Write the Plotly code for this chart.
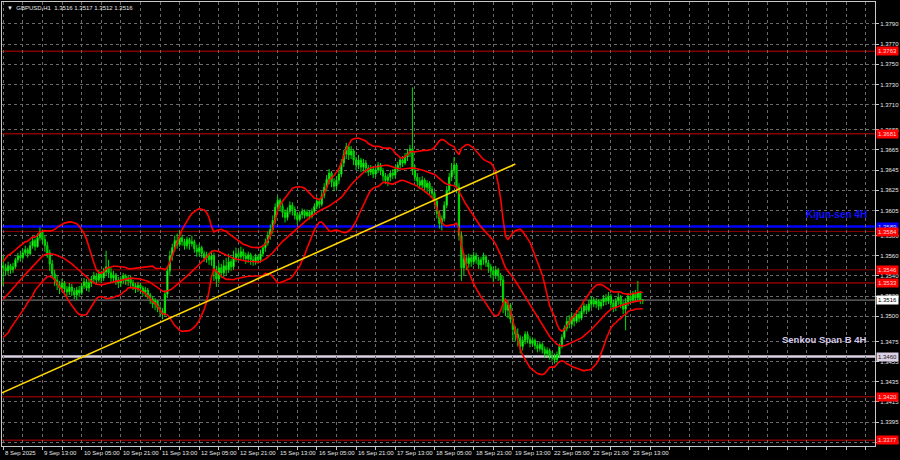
import plotly.graph_objects as go
import pandas as pd
import numpy as np

symbol_title = "GBPUSD,H1  1.3516 1.3517 1.3512 1.3516"

# closes of the bars just before the visible window (they only feed the Bollinger bands,
# estimated from where the bands start on the left edge)
prior_closes = [1.3492, 1.3495, 1.3490, 1.3497, 1.3500, 1.3498, 1.3505, 1.3510, 1.3507, 1.3512,
                1.3515, 1.3520, 1.3518, 1.3525, 1.3530, 1.3535, 1.3540, 1.3545, 1.3550]

closes = [
    1.3548, 1.3545, 1.3550, 1.3546, 1.3549, 1.3556, 1.3560, 1.3558, 1.3563, 1.3566,
    1.3562, 1.3570, 1.3575, 1.3569, 1.3578, 1.3584, 1.3576, 1.3570, 1.3563, 1.3552,
    1.3542, 1.3536, 1.3531, 1.3528, 1.3533, 1.3527, 1.3524, 1.3529, 1.3525, 1.3521,
    1.3526, 1.3523, 1.3530, 1.3534, 1.3528, 1.3533, 1.3537, 1.3540, 1.3536, 1.3542,
    1.3538, 1.3544, 1.3549, 1.3543, 1.3538, 1.3541, 1.3536, 1.3533, 1.3537, 1.3540,
    1.3535, 1.3538, 1.3533, 1.3530, 1.3527, 1.3531, 1.3528, 1.3524, 1.3526, 1.3521,
    1.3517, 1.3512, 1.3515, 1.3508, 1.3505, 1.3502, 1.3522, 1.3545, 1.3560, 1.3568,
    1.3575, 1.3571, 1.3578, 1.3574, 1.3570, 1.3576, 1.3572, 1.3574, 1.3567, 1.3564,
    1.3568, 1.3562, 1.3558, 1.3561, 1.3556, 1.3560, 1.3545, 1.3537, 1.3548, 1.3543,
    1.3550, 1.3546, 1.3554, 1.3549, 1.3558, 1.3562, 1.3559, 1.3564, 1.3560, 1.3557,
    1.3561, 1.3556, 1.3554, 1.3559, 1.3556, 1.3562, 1.3568, 1.3573, 1.3580, 1.3586,
    1.3595, 1.3608, 1.3615, 1.3609, 1.3603, 1.3598, 1.3604, 1.3610, 1.3606, 1.3600,
    1.3596, 1.3601, 1.3604, 1.3600, 1.3603, 1.3599, 1.3604, 1.3609, 1.3614, 1.3611,
    1.3620, 1.3628, 1.3636, 1.3642, 1.3633, 1.3629, 1.3635, 1.3641, 1.3652, 1.3661,
    1.3668, 1.3660, 1.3664, 1.3655, 1.3650, 1.3655, 1.3648, 1.3652, 1.3647, 1.3643,
    1.3646, 1.3641, 1.3645, 1.3650, 1.3644, 1.3639, 1.3635, 1.3638, 1.3642, 1.3640,
    1.3646, 1.3650, 1.3655, 1.3652, 1.3658, 1.3662, 1.3666, 1.3645, 1.3638, 1.3634,
    1.3630, 1.3635, 1.3628, 1.3632, 1.3626, 1.3622, 1.3614, 1.3602, 1.3592, 1.3597,
    1.3610, 1.3625, 1.3638, 1.3645, 1.3650, 1.3628, 1.3580, 1.3548, 1.3557, 1.3552,
    1.3558, 1.3554, 1.3560, 1.3556, 1.3551, 1.3556, 1.3559, 1.3553, 1.3549, 1.3545,
    1.3541, 1.3546, 1.3540, 1.3536, 1.3514, 1.3506, 1.3511, 1.3497, 1.3487, 1.3482,
    1.3478, 1.3470, 1.3476, 1.3482, 1.3477, 1.3473, 1.3476, 1.3471, 1.3468, 1.3472,
    1.3467, 1.3463, 1.3466, 1.3461, 1.3459, 1.3457, 1.3462, 1.3470, 1.3479, 1.3488,
    1.3495, 1.3492, 1.3500, 1.3495, 1.3502, 1.3498, 1.3505, 1.3510, 1.3506, 1.3512,
    1.3516, 1.3512, 1.3515, 1.3510, 1.3514, 1.3518, 1.3515, 1.3520, 1.3513, 1.3509,
    1.3515, 1.3519, 1.3512, 1.3507, 1.3514, 1.3520, 1.3516, 1.3522, 1.3518, 1.3523,
    1.3516, 1.3516,
]

highs = [
    1.3560, 1.3552, 1.3554, 1.3552, 1.3553, 1.3558, 1.3563, 1.3565, 1.3567, 1.3570,
    1.3568, 1.3574, 1.3579, 1.3577, 1.3582, 1.3588, 1.3586, 1.3580, 1.3574, 1.3566,
    1.3556, 1.3546, 1.3540, 1.3535, 1.3537, 1.3535, 1.3530, 1.3533, 1.3532, 1.3528,
    1.3529, 1.3530, 1.3533, 1.3538, 1.3537, 1.3536, 1.3540, 1.3544, 1.3543, 1.3546,
    1.3545, 1.3548, 1.3565, 1.3556, 1.3548, 1.3545, 1.3543, 1.3539, 1.3540, 1.3543,
    1.3542, 1.3541, 1.3540, 1.3536, 1.3533, 1.3534, 1.3533, 1.3530, 1.3529, 1.3528,
    1.3523, 1.3520, 1.3518, 1.3516, 1.3511, 1.3508, 1.3526, 1.3550, 1.3565, 1.3572,
    1.3580, 1.3582, 1.3585, 1.3581, 1.3577, 1.3579, 1.3578, 1.3580, 1.3576, 1.3571,
    1.3572, 1.3570, 1.3565, 1.3564, 1.3563, 1.3565, 1.3563, 1.3550, 1.3553, 1.3552,
    1.3556, 1.3558, 1.3562, 1.3557, 1.3565, 1.3568, 1.3566, 1.3569, 1.3567, 1.3563,
    1.3564, 1.3563, 1.3560, 1.3562, 1.3561, 1.3566, 1.3571, 1.3577, 1.3584, 1.3591,
    1.3600, 1.3612, 1.3619, 1.3617, 1.3612, 1.3606, 1.3608, 1.3614, 1.3613, 1.3609,
    1.3603, 1.3604, 1.3607, 1.3606, 1.3606, 1.3605, 1.3607, 1.3612, 1.3618, 1.3617,
    1.3624, 1.3632, 1.3640, 1.3646, 1.3644, 1.3637, 1.3639, 1.3645, 1.3656, 1.3665,
    1.3672, 1.3670, 1.3669, 1.3666, 1.3658, 1.3660, 1.3657, 1.3656, 1.3655, 1.3650,
    1.3650, 1.3649, 1.3648, 1.3653, 1.3652, 1.3647, 1.3642, 1.3641, 1.3645, 1.3646,
    1.3649, 1.3653, 1.3658, 1.3659, 1.3662, 1.3666, 1.3670, 1.3727, 1.3650, 1.3642,
    1.3638, 1.3639, 1.3637, 1.3635, 1.3634, 1.3629, 1.3624, 1.3616, 1.3605, 1.3600,
    1.3614, 1.3629, 1.3642, 1.3652, 1.3658, 1.3652, 1.3632, 1.3584, 1.3562, 1.3561,
    1.3562, 1.3561, 1.3564, 1.3563, 1.3559, 1.3559, 1.3563, 1.3561, 1.3556, 1.3552,
    1.3549, 1.3550, 1.3548, 1.3543, 1.3540, 1.3518, 1.3516, 1.3513, 1.3500, 1.3490,
    1.3488, 1.3481, 1.3480, 1.3485, 1.3485, 1.3480, 1.3479, 1.3478, 1.3474, 1.3475,
    1.3474, 1.3470, 1.3469, 1.3468, 1.3465, 1.3463, 1.3465, 1.3473, 1.3482, 1.3491,
    1.3499, 1.3501, 1.3504, 1.3503, 1.3506, 1.3505, 1.3509, 1.3513, 1.3512, 1.3516,
    1.3520, 1.3519, 1.3518, 1.3517, 1.3517, 1.3521, 1.3522, 1.3524, 1.3522, 1.3516,
    1.3518, 1.3523, 1.3521, 1.3515, 1.3518, 1.3523, 1.3524, 1.3525, 1.3526, 1.3535,
    1.3525, 1.3517,
]

lows = [
    1.3530, 1.3540, 1.3541, 1.3542, 1.3543, 1.3547, 1.3553, 1.3554, 1.3556, 1.3560,
    1.3558, 1.3560, 1.3567, 1.3565, 1.3568, 1.3575, 1.3572, 1.3564, 1.3558, 1.3545,
    1.3538, 1.3530, 1.3526, 1.3522, 1.3524, 1.3521, 1.3519, 1.3521, 1.3520, 1.3517,
    1.3516, 1.3519, 1.3521, 1.3527, 1.3525, 1.3524, 1.3529, 1.3533, 1.3531, 1.3534,
    1.3533, 1.3535, 1.3540, 1.3538, 1.3533, 1.3534, 1.3531, 1.3528, 1.3529, 1.3532,
    1.3531, 1.3530, 1.3529, 1.3526, 1.3523, 1.3524, 1.3522, 1.3520, 1.3519, 1.3517,
    1.3512, 1.3508, 1.3506, 1.3504, 1.3500, 1.3497, 1.3500, 1.3518, 1.3540, 1.3555,
    1.3564, 1.3567, 1.3569, 1.3570, 1.3566, 1.3567, 1.3566, 1.3569, 1.3563, 1.3559,
    1.3560, 1.3558, 1.3554, 1.3553, 1.3551, 1.3550, 1.3535, 1.3529, 1.3533, 1.3538,
    1.3539, 1.3541, 1.3543, 1.3545, 1.3546, 1.3554, 1.3555, 1.3556, 1.3556, 1.3552,
    1.3553, 1.3551, 1.3550, 1.3551, 1.3552, 1.3553, 1.3559, 1.3564, 1.3570, 1.3576,
    1.3582, 1.3592, 1.3603, 1.3604, 1.3598, 1.3593, 1.3595, 1.3601, 1.3600, 1.3596,
    1.3591, 1.3594, 1.3597, 1.3597, 1.3598, 1.3596, 1.3597, 1.3601, 1.3606, 1.3607,
    1.3609, 1.3617, 1.3624, 1.3631, 1.3628, 1.3624, 1.3626, 1.3631, 1.3638, 1.3648,
    1.3656, 1.3655, 1.3656, 1.3650, 1.3645, 1.3646, 1.3643, 1.3644, 1.3642, 1.3639,
    1.3640, 1.3637, 1.3638, 1.3642, 1.3640, 1.3634, 1.3631, 1.3629, 1.3634, 1.3636,
    1.3637, 1.3643, 1.3647, 1.3648, 1.3650, 1.3654, 1.3658, 1.3640, 1.3634, 1.3629,
    1.3626, 1.3627, 1.3624, 1.3623, 1.3621, 1.3618, 1.3610, 1.3597, 1.3587, 1.3585,
    1.3594, 1.3607, 1.3622, 1.3634, 1.3640, 1.3622, 1.3575, 1.3535, 1.3540, 1.3546,
    1.3548, 1.3549, 1.3551, 1.3552, 1.3547, 1.3546, 1.3551, 1.3549, 1.3543, 1.3538,
    1.3534, 1.3537, 1.3535, 1.3530, 1.3503, 1.3500, 1.3498, 1.3493, 1.3476, 1.3475,
    1.3470, 1.3463, 1.3466, 1.3472, 1.3473, 1.3469, 1.3470, 1.3467, 1.3464, 1.3465,
    1.3463, 1.3459, 1.3460, 1.3457, 1.3455, 1.3453, 1.3454, 1.3459, 1.3468, 1.3477,
    1.3485, 1.3488, 1.3489, 1.3490, 1.3493, 1.3494, 1.3496, 1.3502, 1.3502, 1.3504,
    1.3508, 1.3509, 1.3508, 1.3506, 1.3507, 1.3510, 1.3511, 1.3512, 1.3508, 1.3504,
    1.3505, 1.3511, 1.3508, 1.3502, 1.3486, 1.3510, 1.3512, 1.3513, 1.3514, 1.3515,
    1.3512, 1.3512,
]

# time axis labels
time_label_times = ["2025-09-08 21:00", "2025-09-09 13:00", "2025-09-10 05:00", "2025-09-10 21:00",
                    "2025-09-11 13:00", "2025-09-12 05:00", "2025-09-12 21:00", "2025-09-15 13:00",
                    "2025-09-16 05:00", "2025-09-16 21:00", "2025-09-17 13:00", "2025-09-18 05:00",
                    "2025-09-18 21:00", "2025-09-19 13:00", "2025-09-22 05:00", "2025-09-22 21:00",
                    "2025-09-23 13:00"]
time_label_text = ["8 Sep 2025", "9 Sep 13:00", "10 Sep 05:00", "10 Sep 21:00", "11 Sep 13:00",
                   "12 Sep 05:00", "12 Sep 21:00", "15 Sep 13:00", "16 Sep 05:00", "16 Sep 21:00",
                   "17 Sep 13:00", "18 Sep 05:00", "18 Sep 21:00", "19 Sep 13:00", "22 Sep 05:00",
                   "22 Sep 21:00", "23 Sep 13:00"]

price_ticks = [1.3790, 1.3770, 1.3750, 1.3730, 1.3710, 1.3685, 1.3665, 1.3645, 1.3625, 1.3605,
               1.3580, 1.3560, 1.3540, 1.3520, 1.3500, 1.3475, 1.3455, 1.3435, 1.3415, 1.3395, 1.3375]

# horizontal levels
red_levels = [1.3763, 1.3681, 1.3584, 1.3546, 1.3533, 1.3420, 1.3377]
red_level_colors = ["#c80000", "#c80000", "#8c0000", "#8c0000", "#d20000", "#c00000", "#c00000"]
kijun_level = 1.3589
senkou_b_level = 1.3460
bid_level = 1.3516

# trend line (bar index, price)
trend_bars = [-0.5, 209]
trend_prices = [1.3424, 1.3651]

# ---------- build ----------
bar_times = pd.date_range("2025-09-08 21:00", "2025-09-23 18:00", freq="h")
bar_times = bar_times[bar_times.dayofweek < 5]
n = len(closes)
bar_times = bar_times[:n]
x = np.arange(n)

opens = [prior_closes[-1]] + closes[:-1]
highs_c = [max(h, o, c) for h, o, c in zip(highs, opens, closes)]
lows_c = [min(l, o, c) for l, o, c in zip(lows, opens, closes)]

s = pd.Series(prior_closes + closes)
mid = s.rolling(20).mean()
sd = s.rolling(20).std(ddof=0)
bb_mid = mid.iloc[-n:].values
bb_up = (mid + 2 * sd).iloc[-n:].values
bb_lo = (mid - 2 * sd).iloc[-n:].values

fig = go.Figure()

fig.add_trace(go.Candlestick(
    x=x, open=opens, high=highs_c, low=lows_c, close=closes,
    increasing=dict(line=dict(color="#00e000", width=1), fillcolor="#98ff98"),
    decreasing=dict(line=dict(color="#00e000", width=1), fillcolor="#00a800"),
    whiskerwidth=0, showlegend=False, hoverinfo="skip",
))
for band in (bb_up, bb_mid, bb_lo):
    fig.add_trace(go.Scatter(x=x, y=band, mode="lines",
                             line=dict(color="#ff0000", width=1.6),
                             showlegend=False, hoverinfo="skip"))

shapes = []
for lv, col in zip(red_levels, red_level_colors):
    shapes.append(dict(type="line", xref="paper", yref="y", x0=0, x1=1, y0=lv, y1=lv,
                       line=dict(color=col, width=1), layer="below"))
shapes.append(dict(type="line", xref="paper", yref="y", x0=0, x1=1, y0=bid_level, y1=bid_level,
                   line=dict(color="#8a8a8a", width=1), layer="below"))
shapes.append(dict(type="line", xref="paper", yref="y", x0=0, x1=1, y0=kijun_level, y1=kijun_level,
                   line=dict(color="#0000ff", width=2.5), layer="below"))
shapes.append(dict(type="line", xref="paper", yref="y", x0=0, x1=1, y0=senkou_b_level, y1=senkou_b_level,
                   line=dict(color="#dcd0e4", width=2.5), layer="below"))
shapes.append(dict(type="line", xref="x", yref="y", x0=trend_bars[0], x1=trend_bars[1],
                   y0=trend_prices[0], y1=trend_prices[1],
                   line=dict(color="#ffd700", width=1.6), layer="above"))

annotations = []
font_small = "Liberation Sans, Arial, sans-serif"
for t, txt in zip(time_label_times, time_label_text):
    idx = bar_times.get_loc(pd.Timestamp(t))
    annotations.append(dict(x=idx, y=0, xref="x", yref="paper", text=txt, showarrow=False,
                            xanchor="left", yanchor="top", yshift=-2,
                            font=dict(family=font_small, size=6, color="#e6e6e6")))

box_levels = red_levels[:2] + [kijun_level] + red_levels[2:5] + [bid_level, senkou_b_level] + red_levels[5:]
box_bg = ["#ff0000", "#ff0000", "#0000ff", "#ff0000", "#ff0000", "#ff0000",
          "#ffffff", "#dcd0e4", "#ff0000", "#ff0000"]
box_fg = ["#ffd8d8", "#ffd8d8", "#d8d8ff", "#ffd8d8", "#ffd8d8", "#ffd8d8",
          "#000000", "#202020", "#ffd8d8", "#ffd8d8"]
for lv, bg, fg in zip(box_levels, box_bg, box_fg):
    annotations.append(dict(x=1, y=lv, xref="paper", yref="y", text=f"{lv:.4f}", showarrow=False,
                            xanchor="left", yanchor="middle", xshift=1, bgcolor=bg, borderpad=1,
                            font=dict(family=font_small, size=6, color=fg)))

annotations.append(dict(x=0.993, y=kijun_level, xref="paper", yref="y", text="<b>Kijun-sen 4H</b>",
                        showarrow=False, xanchor="right", yanchor="middle", yshift=12,
                        font=dict(family="Liberation Sans, Arial, sans-serif", size=10, color="#1010ff")))
annotations.append(dict(x=0.993, y=senkou_b_level, xref="paper", yref="y", text="<b>Senkou Span B 4H</b>",
                        showarrow=False, xanchor="right", yanchor="middle", yshift=17,
                        font=dict(family="Liberation Sans, Arial, sans-serif", size=9.5, color="#d4c8e8")))
annotations.append(dict(x=0, y=1, xref="paper", yref="paper", text="▼  " + symbol_title,
                        showarrow=False, xanchor="left", yanchor="top", xshift=3, yshift=-1,
                        font=dict(family=font_small, size=6, color="#e6e6e6")))

bar_px = 2.456
plot_w = 875
x0 = -0.49
fig.update_layout(
    width=900, height=460,
    margin=dict(l=1, r=24, t=1, b=14),
    paper_bgcolor="#000000", plot_bgcolor="#000000",
    shapes=shapes, annotations=annotations,
    showlegend=False,
    xaxis=dict(range=[x0, x0 + plot_w / bar_px], rangeslider=dict(visible=False),
               tickmode="linear", tick0=0, dtick=8, showticklabels=False,
               ticks="outside", ticklen=3, tickcolor="#c8c8c8",
               showgrid=True, gridcolor="#6a6a6a", griddash="3px,3px", gridwidth=1,
               showline=True, linecolor="#c8c8c8", linewidth=1, mirror=True, zeroline=False,
               fixedrange=True),
    yaxis=dict(range=[1.33712, 1.38118], side="right",
               tickmode="array", tickvals=price_ticks, ticktext=[f"{v:.4f}" for v in price_ticks],
               ticks="outside", ticklen=3, tickcolor="#c8c8c8",
               tickfont=dict(family=font_small, size=6, color="#e6e6e6"),
               showgrid=True, gridcolor="#6a6a6a", griddash="3px,3px", gridwidth=1,
               showline=True, linecolor="#c8c8c8", linewidth=1, mirror=True, zeroline=False,
               fixedrange=True),
)

fig.write_html("out.html", config={"displayModeBar": False},
               post_script="document.body.style.margin='0';document.body.style.overflow='hidden';")
